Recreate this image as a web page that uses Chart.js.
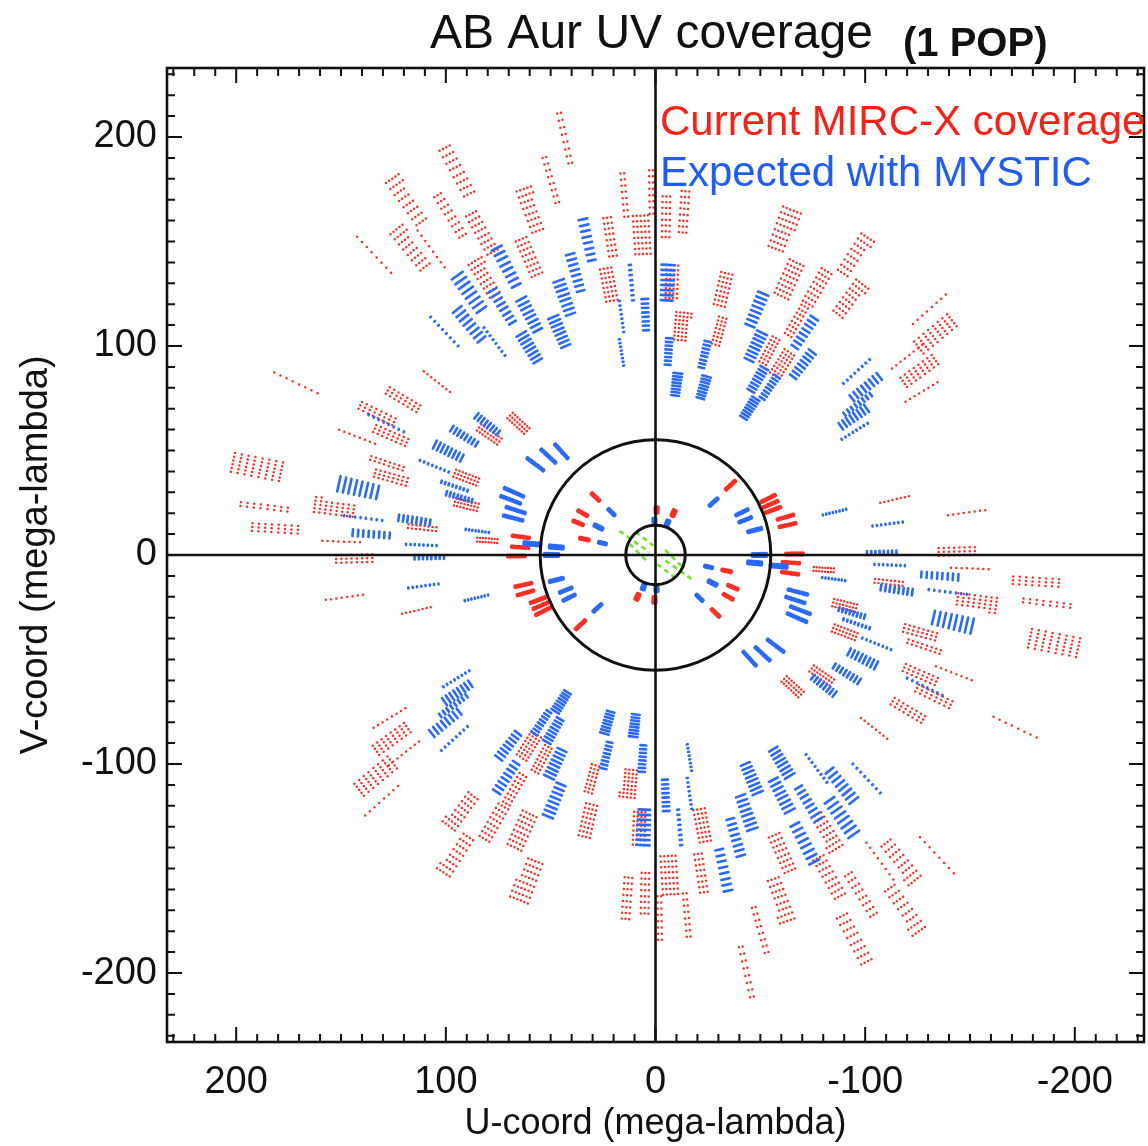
<!DOCTYPE html>
<html>
<head>
<meta charset="utf-8">
<script src="https://cdn.jsdelivr.net/npm/chart.js@4.4.0/dist/chart.umd.min.js"></script>
<style>
html,body{margin:0;padding:0;background:#ffffff;}
#wrap{width:1148px;height:1146px;}
</style>
</head>
<body>
<div id="wrap"><canvas id="c" width="1148" height="1146"></canvas></div>
<script>
// ---------------- DATA ----------------
const titleText = 'AB Aur UV coverage';
const subtitleText = '(1 POP)';
const xAxisTitle = 'U-coord (mega-lambda)';
const yAxisTitle = 'V-coord (mega-lambda)';
const legendLabels = ['Current MIRC-X coverage', 'Expected with MYSTIC'];
const axisMin = -233, axisMax = 233;
const tickStep = 100;
const minorTickStep = 10;
const circleRadii = [14.2, 55];

// relative 1/lambda of each spectral channel (baseline/lambda scaling)
const mircChannels   = [0.94, 0.957, 0.974, 0.991, 1.009, 1.026, 1.043, 1.06];
const mysticChannels = [0.935, 0.954, 0.972, 0.991, 1.009, 1.028, 1.046, 1.065];

// MIRC-X tracks: [u, v, track length] in mega-lambda (conjugate -u,-v also sampled)
const mircTracks = [
  [94.5,183.8,6],[118.4,169.9,7],[116.5,147.0,7],[134.1,143.7,0.3],[97.4,162.8,5],
  [82.6,154.2,6],[106.9,146.5,0.3],[81.1,132.7,7],[59.2,165.2,7],[60.1,142.7,6],
  [49.6,179.5,2.5],[43.0,199.5,2.5],[21.0,152.3,5],[22.0,129.4,6],[14.3,172.3,3],
  [1.9,173.7,2],[6.2,153.2,8],[-5.7,161.8,5],[-13.8,164.2,4],[-8.1,130.8,6],
  [-12.9,109.3,7],[-31.0,106.9,5],[-32.5,127.0,6],[-61.6,155.6,9],[-64.0,131.7,8],
  [-77.3,127.9,6],[-95.5,143.2,7],[-93.1,122.2,7],[-130.8,117.4,0.5],[-133.7,105.5,8],
  [-120.3,94.5,1],[-126.0,87.8,6],[-127.0,77.8,0.5],[-54.9,97.4,5],[-60.6,91.2,6],
  [-67.8,111.7,5],[64.9,63.5,5],[79.2,57.8,4],
  [171.4,82.6,0.5],[104.1,83.1,0.5],[120.3,74.5,4],
  [132.7,67.8,4],[126.0,57.8,5],[142.2,56.8,0.5],[127.9,44.4,3],[126.0,37.7,5],
  [190.0,42.5,10],[186.6,23.4,2.5],[181.4,13.4,5],[153.2,22.9,7],[149.9,6.7,0.5],
  [143.7,-1.0,5],[111.2,13.4,2.5],[90.2,37.2,4],[90.2,24.3,4],[80.2,7.6,3],
  [-114.1,26.3,0.5],[-148.4,20.0,0.5],
  // short baselines (solid dashes)
  [28.6,27.7,0.4],[34.7,20.0,0.4],[36.9,15.4,0.4],[33.9,7.6,0.4],
  [-0.5,21.5,1],[-8.6,20.0,1],[-35.8,33.4,0.4],
  [-53.7,27.0,0.3],[-54.9,24.3,0.3],[-56.1,21.6,0.3],
  [-62.0,18.1,0.3],[-63.0,14.3,0.3],[-66.3,0.5,0.5],
  [64.2,8.7,0.3],[64.6,3.7,0.3]
];

// MYSTIC tracks: [u, v, track length] in mega-lambda
const mysticTracks = [
  [32.5,150.8,4],[38.2,135.1,4],[43.4,123.2,5],[45.8,106.9,5],[71.1,137.9,5],
  [88.8,125.5,6],[73.0,118.9,4],[60.1,115.0,5],[60.1,99.3,5],[88.8,110.3,5],
  [100.7,106.9,0.5],[76.8,102.1,0.5],[16.2,114.1,0.5],[16.2,96.9,0.5],[11.5,130.3,1],
  [4.8,115.0,3],[-5.7,130.3,6],[-6.2,97.4,3],[-10.0,81.6,4],[-23.4,95.9,3],
  [-22.9,80.2,4],[-48.2,117.4,5],[-47.7,99.8,5],[-48.7,84.0,4],[-44.9,70.2,4],
  [-54.4,80.2,3],[-71.1,106.4,4],[-70.2,91.2,4],[-95.9,87.8,0.5],[-100.2,80.2,4],
  [-96.4,72.1,2],[-94.5,65.9,4],[-95.0,59.2,0.5],[-85.4,20.5,0.5],[-110.7,14.8,0.5],
  [128.4,63.0,0.5],[141.8,32.0,7],[139.4,17.7,0.5],[135.6,10.0,3],[115.0,16.7,3],
  [111.7,4.8,0.5],[107.9,-1.0,2],[105.5,42.5,0.5],[98.8,49.6,4],[91.2,56.8,3],
  [95.9,32.9,1],[93.6,27.7,2],[85.0,11.5,0.5],[80.2,62.5,3],
  // short baselines (solid dashes)
  [57.3,43.4,0.3],[51.1,47.3,0.3],[44.9,49.6,0.3],
  [67.5,30.0,0.3],[69.1,26.4,0.3],[66.7,21.5,0.3],[67.9,17.7,0.3],
  [27.2,13.4,0.8],[21.0,20.5,0.4],[25.3,5.7,0.4],
  [0.5,16.2,1],[-5.7,15.3,1],[-27.7,25.3,0.4],[-42.8,16.8,0.3],[-41.2,20.4,0.3],
  [-47.3,11.9,0.5],[-49.6,0.0,1],[47.3,3.8,1],[58.7,5.3,1]
];

// short-baseline tracks (green): [u1, v1, u2, v2]
const greenTracks = [
  [17.2,11.5,2.9,1.4],[12.4,5.3,3.8,-3.3],[9.5,11.0,1.0,4.5]
];

// tracks closer than this radius merge into solid dashes
const innerRadius = 75;

// ---------------- BUILD ----------------
function channelSegments(tracks, channels, inner) {
  const pts = [];
  for (const [u, v, len] of tracks) {
    const r = Math.hypot(u, v) || 1;
    if ((r < innerRadius) !== inner) continue;
    const tu = -v / r * len / 2, tv = u / r * len / 2;
    for (const sgn of [1, -1]) {
      for (const s of channels) {
        pts.push({x: sgn * s * (u - tu), y: sgn * s * (v - tv)});
        pts.push({x: sgn * s * (u + tu), y: sgn * s * (v + tv)});
        pts.push({x: NaN, y: NaN});
      }
    }
  }
  return pts;
}
function plainSegments(tracks) {
  const pts = [];
  for (const [u1, v1, u2, v2] of tracks) {
    for (const sgn of [1, -1]) {
      pts.push({x: sgn * u1, y: sgn * v1});
      pts.push({x: sgn * u2, y: sgn * v2});
      pts.push({x: NaN, y: NaN});
    }
  }
  return pts;
}

const FONT = "'Liberation Sans', Arial, Helvetica, sans-serif";
const RED = 'rgb(255,30,20)';
const BLUE = 'rgb(30,92,255)';
const RED_MARK = 'rgb(255,45,35)';
const BLUE_MARK = 'rgb(40,105,255)';
// a (practically) solid dash pattern keeps Chart.js on its exact path renderer
const SOLID = [400, 0.01];

const decor = {
  id: 'decor',
  afterDatasetsDraw(chart) {
    const {ctx, chartArea: ca, scales: {x, y}} = chart;
    const x0 = x.getPixelForValue(0), y0 = y.getPixelForValue(0);
    ctx.save();
    ctx.strokeStyle = '#111';
    ctx.lineWidth = 2.6;
    ctx.beginPath();
    ctx.moveTo(x0, ca.top); ctx.lineTo(x0, ca.bottom);
    ctx.moveTo(ca.left, y0); ctx.lineTo(ca.right, y0);
    ctx.stroke();
    ctx.lineWidth = 3;
    for (const r of circleRadii) {
      const rp = Math.abs(x.getPixelForValue(r) - x0);
      ctx.beginPath(); ctx.arc(x0, y0, rp, 0, Math.PI * 2); ctx.stroke();
    }
    ctx.lineWidth = 2.6;
    ctx.strokeRect(ca.left, ca.top, ca.right - ca.left, ca.bottom - ca.top);
    ctx.lineWidth = 2;
    ctx.beginPath();
    for (let v = Math.ceil(axisMin / minorTickStep) * minorTickStep; v <= axisMax; v += minorTickStep) {
      const len = (v % tickStep === 0) ? 15 : 8;
      const px = x.getPixelForValue(v);
      ctx.moveTo(px, ca.bottom); ctx.lineTo(px, ca.bottom - len);
      ctx.moveTo(px, ca.top); ctx.lineTo(px, ca.top + len);
      const py = y.getPixelForValue(v);
      ctx.moveTo(ca.left, py); ctx.lineTo(ca.left + len, py);
      ctx.moveTo(ca.right, py); ctx.lineTo(ca.right - len, py);
    }
    ctx.stroke();
    // legend text
    ctx.beginPath();
    ctx.rect(ca.left, ca.top, ca.right - ca.left, ca.bottom - ca.top);
    ctx.clip();
    ctx.font = '42px ' + FONT;
    ctx.textAlign = 'left';
    ctx.textBaseline = 'middle';
    ctx.fillStyle = RED;
    ctx.fillText(legendLabels[0], 660, 123);
    ctx.fillStyle = BLUE;
    ctx.fillText(legendLabels[1], 660, 174);
    ctx.restore();
  },
  afterDraw(chart) {
    const {ctx} = chart;
    ctx.save();
    ctx.fillStyle = '#111';
    ctx.textBaseline = 'middle';
    ctx.textAlign = 'left';
    ctx.font = '48px ' + FONT;
    ctx.fillText(titleText, 430, 35);
    ctx.font = 'bold 40px ' + FONT;
    ctx.fillText(subtitleText, 903, 45);
    ctx.restore();
  }
};

const lineBase = {pointRadius: 0, fill: false, tension: 0, spanGaps: false};

new Chart(document.getElementById('c'), {
  type: 'line',
  data: {
    datasets: [
      Object.assign({
        label: legendLabels[0],
        data: channelSegments(mircTracks, mircChannels, false),
        borderColor: RED_MARK, borderWidth: 2.5, borderDash: [0, 3.8], borderCapStyle: 'round',
        order: 5
      }, lineBase),
      Object.assign({
        label: legendLabels[0] + ' (short)',
        data: channelSegments(mircTracks, mircChannels, true),
        borderColor: RED_MARK, borderWidth: 4.2, borderDash: SOLID, borderCapStyle: 'round',
        order: 4
      }, lineBase),
      Object.assign({
        label: legendLabels[1],
        data: channelSegments(mysticTracks, mysticChannels, false),
        borderColor: BLUE_MARK, borderWidth: 2.6, borderDash: SOLID, borderCapStyle: 'round',
        order: 3
      }, lineBase),
      Object.assign({
        label: legendLabels[1] + ' (short)',
        data: channelSegments(mysticTracks, mysticChannels, true),
        borderColor: BLUE_MARK, borderWidth: 4.2, borderDash: SOLID, borderCapStyle: 'round',
        order: 2
      }, lineBase),
      Object.assign({
        label: 'short baselines',
        data: plainSegments(greenTracks),
        borderColor: 'rgb(110,230,40)', borderWidth: 2.6, borderDash: [5, 4],
        order: 1
      }, lineBase)
    ]
  },
  options: {
    responsive: false,
    animation: false,
    devicePixelRatio: 1,
    layout: {padding: {top: 68, right: 4, left: 0, bottom: 0}},
    plugins: {legend: {display: false}, tooltip: {enabled: false}, title: {display: false}},
    events: [],
    scales: {
      x: {
        type: 'linear', reverse: true, min: axisMin, max: axisMax,
        grid: {display: false}, border: {display: false},
        ticks: {stepSize: tickStep, includeBounds: false, autoSkip: false, maxRotation: 0,
                font: {family: FONT, size: 38}, color: '#111', padding: 10},
        title: {display: true, text: xAxisTitle, font: {family: FONT, size: 36}, color: '#111',
                padding: {top: 0, bottom: 0}},
        afterFit(s) { s.height = 104; }
      },
      y: {
        type: 'linear', min: axisMin, max: axisMax,
        grid: {display: false}, border: {display: false},
        ticks: {stepSize: tickStep, includeBounds: false, autoSkip: false,
                font: {family: FONT, size: 38}, color: '#111', padding: 2},
        title: {display: true, text: yAxisTitle, font: {family: FONT, size: 38}, color: '#111',
                padding: {top: 14, bottom: 0}},
        afterFit(s) { s.width = 167; }
      }
    }
  },
  plugins: [decor]
});
</script>
</body>
</html>
